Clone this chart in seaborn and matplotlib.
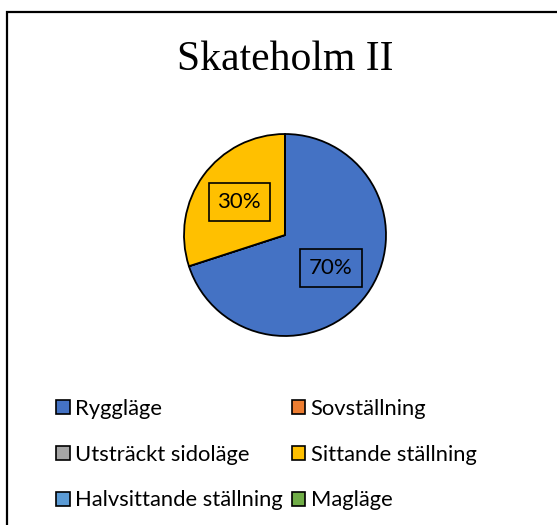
import matplotlib
matplotlib.use("Agg")
import matplotlib.pyplot as plt
import seaborn as sns
from matplotlib.patches import Patch, Rectangle

# Data
categories = ["Ryggläge", "Sovställning", "Utsträckt sidoläge",
              "Sittande ställning", "Halvsittande ställning", "Magläge"]
values = [7, 0, 0, 3, 0, 0]
colors = ["#4472C4", "#ED7D31", "#A5A5A5", "#FFC000", "#5B9BD5", "#70AD47"]
title = "Skateholm II"

sns.set_theme(style="white")
plt.rcParams["font.family"] = ["Lato", "DejaVu Sans"]

W, H = 557, 525
fig = plt.figure(figsize=(W / 100, H / 100), dpi=100)
fig.patch.set_facecolor("white")

# Border (partially cropped at right/bottom)
fig.patches.append(Rectangle((7 / W, -0.05), 1.2, (H - 12) / H + 0.05,
                             transform=fig.transFigure, fill=False,
                             edgecolor="black", linewidth=1.6, zorder=0))

# Pie axes
cx, cy, r = 285, 235, 102
ax = fig.add_axes([(cx - r) / W, (H - cy - r) / H, 2 * r / W, 2 * r / H])


def fmt(p):
    return f"{p:.0f}%" if p > 0.5 else ""


wedges, texts, autotexts = ax.pie(
    values, colors=colors, startangle=90, counterclock=False,
    autopct=fmt, pctdistance=0.56,
    wedgeprops=dict(edgecolor="black", linewidth=1.3),
    textprops=dict(fontsize=16, color="black"))
for t in autotexts:
    if t.get_text():
        t.set_bbox(dict(facecolor="none", edgecolor="black", linewidth=1.2,
                        boxstyle="square,pad=0.4"))
ax.set_xlim(-1.01, 1.01)
ax.set_ylim(-1.01, 1.01)
ax.set_aspect("equal")
ax.axis("off")

fig.text(cx / W, 1 - 60 / H, title, ha="center", va="center",
         fontsize=30, family=["Liberation Serif", "DejaVu Serif"], color="black")

# Legend (row-major order as in reference)
handles = [Patch(facecolor=c, edgecolor="black", linewidth=1.2, label=l)
           for c, l in zip(colors, categories)]
order = [0, 2, 4, 1, 3, 5]
leg = fig.legend([handles[i] for i in order], [categories[i] for i in order],
                 ncol=2, loc="upper left",
                 bbox_to_anchor=(56 / W, 1 - 399 / H),
                 frameon=False, fontsize=15.8,
                 handlelength=0.62, handleheight=0.62, handletextpad=0.25,
                 labelspacing=1.17, columnspacing=0.4, borderaxespad=0,
                 borderpad=0)
for t in leg.get_texts():
    t.set_color("black")

fig.savefig("out.png", dpi=100, facecolor="white")
